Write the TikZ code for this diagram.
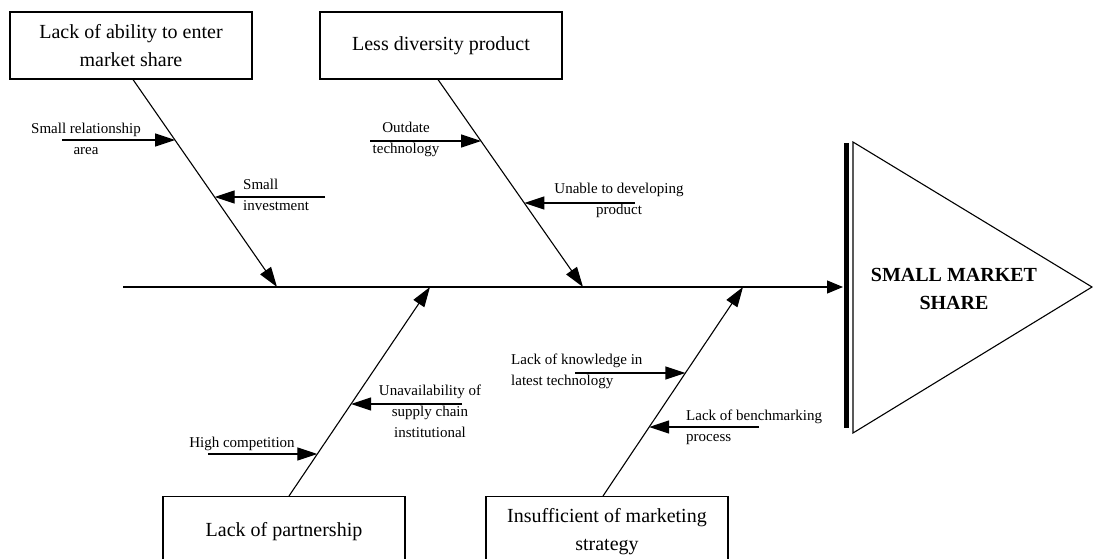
\documentclass[tikz,border=0pt]{standalone}
\usepackage{fontspec}
\setmainfont{Liberation Serif}
\usetikzlibrary{arrows.meta}
\begin{document}
\begin{tikzpicture}[x=1pt,y=-1pt,
  causebox/.style={draw, line width=1.1pt, align=center, font=\fontsize{20}{28}\selectfont, inner sep=0pt, minimum width=242pt},
  lbl/.style={font=\fontsize{15}{21}\selectfont, inner sep=0pt},
  bone/.style={line width=1.1pt, -{Triangle[length=20pt,width=13pt]}},
  twig/.style={line width=1.3pt, -{Triangle[length=20pt,width=13pt]}},
]
\useasboundingbox (0,0) rectangle (1093,559);
\clip (0,0) rectangle (1093,559);

% cause boxes
\node[causebox, minimum height=67pt] (c1) at (131,45.5) {Lack of ability to enter\\market share};
\node[causebox, minimum height=67pt] (c2) at (441,45.5) {Less diversity product};
\node[causebox, minimum height=70pt, anchor=north] (c3) at (284,496) {Lack of partnership};
\node[causebox, minimum height=70pt, anchor=north] (c4) at (607,496) {Insufficient of marketing\\strategy};

% spine points
\coordinate (sp0) at (123,287);
\coordinate (spE) at (843,287);
\coordinate (s1) at (277,287);
\coordinate (s2) at (583,287);
\coordinate (s3) at (430,287);
\coordinate (s4) at (743,287);

% spine and head
\draw[bone, -{Triangle[length=16pt,width=13pt]}] (sp0) -- (spE);
\coordinate (barT) at (846,143);
\coordinate (barB) at (846,428);
\draw[line width=5pt] (barT) -- (barB);
\coordinate (triT) at (853,142);
\coordinate (triA) at (1092,287);
\coordinate (triB) at (853,433);
\draw[line width=1.1pt, line join=miter] (triT) -- (triA) -- (triB) -- cycle;
\node[font=\bfseries\fontsize{20}{28}\selectfont, align=center] (effect) at (954,289) {SMALL MARKET\\SHARE};

% bones
\draw[bone] ([xshift=2pt]c1.south) -- (s1);
\draw[bone] ([xshift=-3pt]c2.south) -- (s2);
\draw[bone] ([xshift=5pt]c3.north) -- (s3);
\draw[bone] ([xshift=-4pt]c4.north) -- (s4);

% sub-cause twigs
\coordinate (a1) at (62,140);   \coordinate (b1) at (175.2,140);
\coordinate (a2) at (325,197);  \coordinate (b2) at (214.7,197);
\coordinate (a3) at (370,141);  \coordinate (b3) at (481.2,141);
\coordinate (a4) at (635,203);  \coordinate (b4) at (524.4,203);
\coordinate (a5) at (462,404);  \coordinate (b5) at (351.1,404);
\coordinate (a6) at (208,454);  \coordinate (b6) at (317.3,454);
\coordinate (a7) at (575,373);  \coordinate (b7) at (685.4,373);
\coordinate (a8) at (759,427);  \coordinate (b8) at (649.2,427);
\foreach \i in {1,...,8} { \draw[twig] (a\i) -- (b\i); }

% labels
\node[lbl, align=center] (l1) at (86,139) {Small relationship\\area};
\node[lbl, align=left, anchor=west] (l2) at (243,195) {Small\\investment};
\node[lbl, align=center] (l3) at (406,139) {Outdate\\technology};
\node[lbl, align=center] (l4) at (619,200) {Unable to developing\\product};
\node[lbl, align=center] (l5) at (430,411) {Unavailability of\\supply chain\\institutional};
\node[lbl, align=center] (l6) at (242,444) {High competition};
\node[lbl, align=left, anchor=west] (l7) at (511,371.5) {Lack of knowledge in\\latest technology};
\node[lbl, align=left, anchor=west] (l8) at (686,427.5) {Lack of benchmarking\\process};
\end{tikzpicture}
\end{document}
